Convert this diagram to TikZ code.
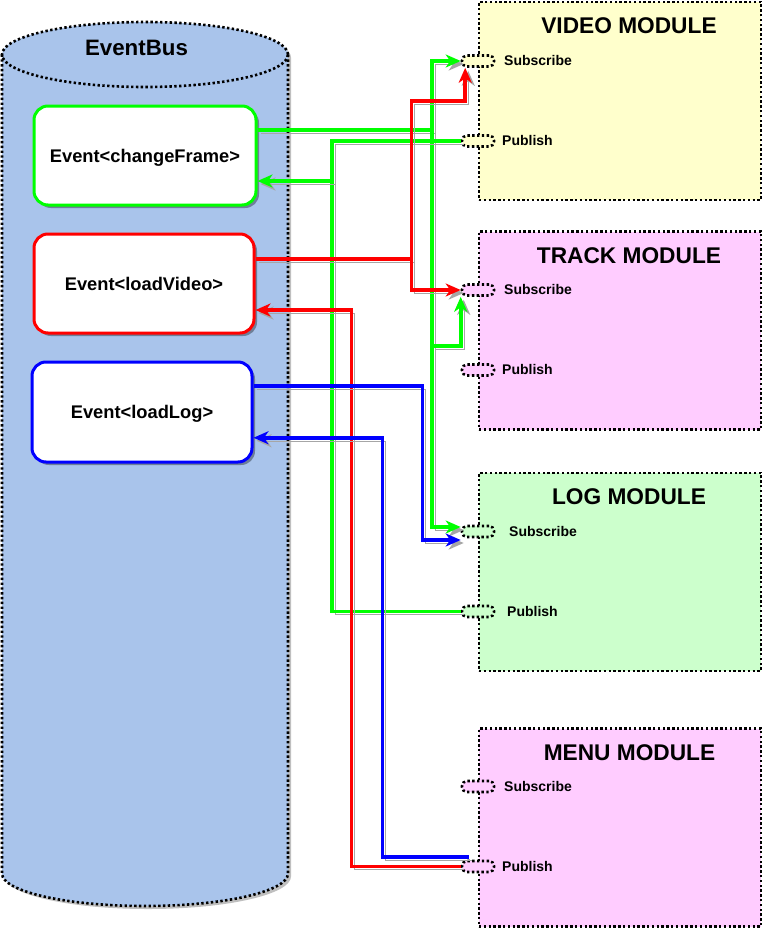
\documentclass[tikz,border=0pt]{standalone}
\usepackage{fontspec}
\setmainfont{Liberation Sans}
\usetikzlibrary{arrows.meta,shadows,calc}
\definecolor{busblue}{HTML}{A9C4EB}
\definecolor{vyel}{HTML}{FFFFCC}
\definecolor{mpink}{HTML}{FFCCFF}
\definecolor{lgreen}{HTML}{CCFFCC}
\definecolor{gline}{RGB}{0,255,0}
\definecolor{rline}{RGB}{255,0,0}
\definecolor{bline}{RGB}{0,0,255}
\begin{document}
\begin{tikzpicture}[x=1pt,y=-1pt,
  dotb/.style={draw=black, line width=2.6pt, dash pattern=on 2.4pt off 2.4pt},
  evbox/.style={draw, line width=3pt, fill=white, rounded corners=14pt,
    minimum width=220pt, minimum height=97pt, inner sep=0pt, text depth=0pt,
    font=\bfseries\fontsize{18.3}{20}\selectfont,
    drop shadow={shadow xshift=3pt, shadow yshift=-3pt, opacity=0.35, fill=black}},
  module/.style={dotb, minimum width=282pt, minimum height=198pt, inner sep=0pt},
  port/.style={dotb, rounded corners=5pt, minimum width=32pt, minimum height=11pt, inner sep=0pt},
  lab/.style={font=\bfseries\fontsize{14}{16}\selectfont, anchor=base west, inner sep=0pt},
  title/.style={font=\bfseries\fontsize{22.7}{26}\selectfont, anchor=base, inner sep=0pt},
  conn/.style={line width=3.6pt, preaction={draw=black!35, transform canvas={shift={(3pt,-3pt)}}}},
  arr/.style={-{Stealth[length=15pt,width=13pt,inset=4.5pt]}}
]
\useasboundingbox (0,0) rectangle (763,929);
% EventBus cylinder
\path[fill=busblue, preaction={fill=black, opacity=0.25, transform canvas={shift={(3pt,-3pt)}}}]
  (2,54.5) -- (2,873.5) .. controls (2,891.45) and (66,906) .. (145,906)
  .. controls (224,906) and (288,891.45) .. (288,873.5) -- (288,54.5)
  .. controls (288,36.55) and (224,22) .. (145,22)
  .. controls (66,22) and (2,36.55) .. (2,54.5) -- cycle;
\draw[dotb] (2,54.5) -- (2,873.5) .. controls (2,891.45) and (66,906) .. (145,906)
  .. controls (224,906) and (288,891.45) .. (288,873.5) -- (288,54.5);
\draw[dotb] (145,54.5) ellipse [x radius=143pt, y radius=32.5pt];
\node[title, font=\bfseries\fontsize{22.3}{26}\selectfont] (bus) at (136.5,55) {EventBus};
% event boxes
\node[evbox, draw=gline, minimum width=222pt, minimum height=99pt] (cf) at (145,155.5) {Event<changeFrame>};
\node[evbox, draw=rline, minimum width=220pt, minimum height=99pt] (lv) at (144,283.5) {Event<loadVideo>};
\node[evbox, draw=bline, minimum width=220pt, minimum height=100pt] (ll) at (142,412) {Event<loadLog>};
% modules
\node[module, fill=vyel] (vm) at (620,101) {};
\node[module, fill=mpink] (tm) at (620,330.5) {};
\node[module, fill=lgreen] (lm) at (620,572) {};
\node[module, fill=mpink] (mm) at (620,827.5) {};
\node[title] (vt) at (629,33) {VIDEO MODULE};
\node[title] (tt) at (629,263) {TRACK MODULE};
\node[title] (lt) at (629,504) {LOG MODULE};
\node[title] (mt) at (629.5,760) {MENU MODULE};
% ports
\node[port, fill=vyel] (vs) at (478,61) {};
\node[port, fill=vyel] (vp) at (478,141) {};
\node[port, fill=mpink] (ts) at (478,290) {};
\node[port, fill=mpink] (tp) at (478,370) {};
\node[port, fill=lgreen] (ls) at (478,531.5) {};
\node[port, fill=lgreen] (lp) at (478,611.5) {};
\node[port, fill=mpink] (ms) at (478,786.5) {};
\node[port, fill=mpink] (mp) at (478,866.5) {};
\node[lab] (vsl) at (504,65.5) {Subscribe};
\node[lab] (vpl) at (502,145.5) {Publish};
\node[lab] (tsl) at (504,294.5) {Subscribe};
\node[lab] (tpl) at (502,374.5) {Publish};
\node[lab] (lsl) at (509,536) {Subscribe};
\node[lab] (lpl) at (507,616) {Publish};
\node[lab] (msl) at (504,791) {Subscribe};
\node[lab] (mpl) at (502,871) {Publish};
% connector anchors
\coordinate (cfA) at ($(cf.north east)!0.25!(cf.south east)$);
\coordinate (cfB) at ($(cf.north east)!0.75!(cf.south east)$);
\coordinate (lvA) at ($(lv.north east)!0.26!(lv.south east)$);
\coordinate (lvB) at ($(lv.north east)!0.76!(lv.south east)$);
\coordinate (llA) at ($(ll.north east)!0.25!(ll.south east)$);
\coordinate (llB) at ($(ll.north east)!0.75!(ll.south east)$);
\coordinate (gx) at (432,0);
\coordinate (gpx) at (332,0);
\coordinate (rx) at (411.5,0);
\coordinate (rpx) at (351.5,0);
\coordinate (bx) at (422.5,0);
\coordinate (bpx) at (382.5,0);
% green: changeFrame subscribe
\draw[conn, gline, arr] (cfA) -- (gx |- cfA) |- (vs.west);
\draw[conn, gline, arr] (gx |- cfA) |- ($(ls.west)+(0,-4.5)$);
\draw[conn, gline, arr] (gx |- 0,346) -| (ts.south west);
% green: publish to changeFrame
\draw[conn, gline] (lp.west) -| (gpx |- cfB);
\draw[conn, gline, arr] (vp.west) -| (gpx |- cfB) -- (cfB);
% red: loadVideo subscribe
\draw[conn, rline, arr] (lvA) -- (rx |- lvA) -- (rx |- 0,101) -| ([xshift=4.5pt]vs.south west);
\draw[conn, rline, arr] (rx |- lvA) |- (ts.west);
% red: menu publish to loadVideo
\draw[conn, rline, arr] (mp.west) -| (rpx |- lvB) -- (lvB);
% blue: loadLog subscribe
\draw[conn, bline, arr] (llA) -- (bx |- llA) |- ($(ls.west)+(0,8.5)$);
% blue: menu publish to loadLog
\draw[conn, bline, arr] ($(mp.north west)+(8,-3)$) -| (bpx |- llB) -- (llB);
\end{tikzpicture}
\end{document}
